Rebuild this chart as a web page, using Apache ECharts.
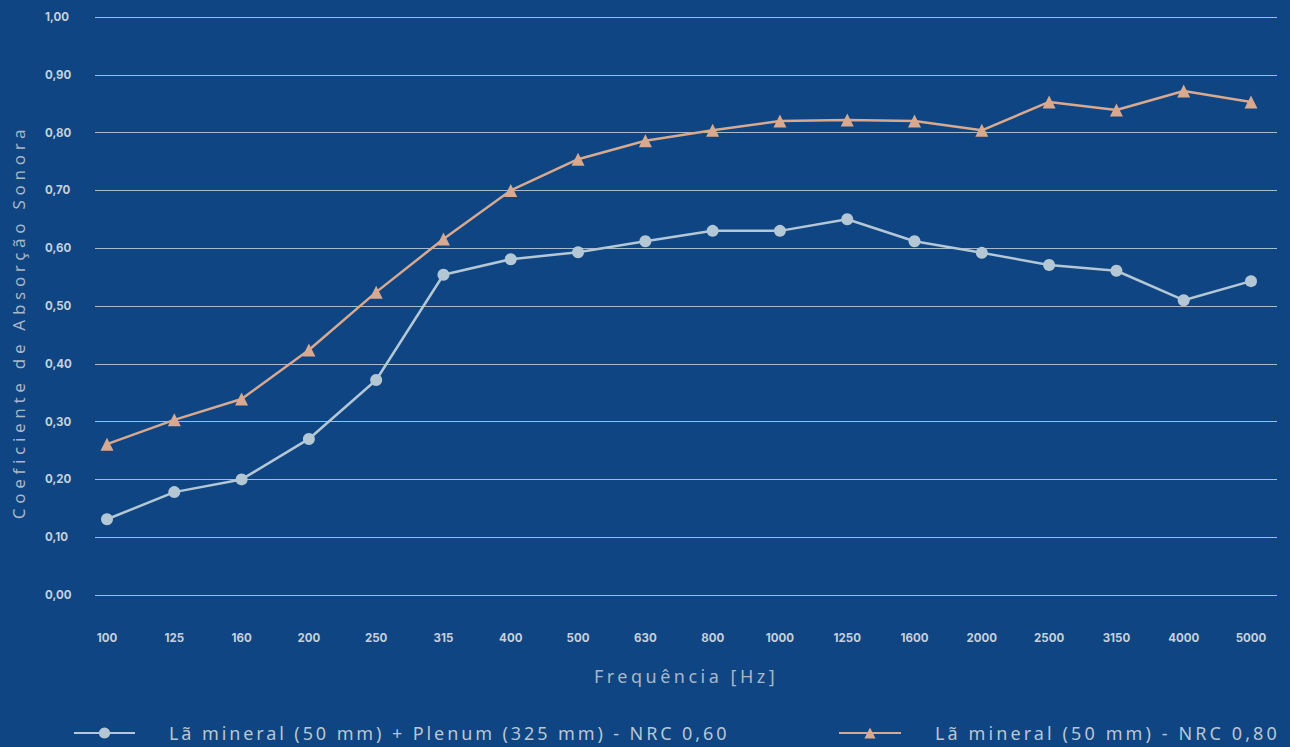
<!DOCTYPE html>
<html>
<head>
<meta charset="utf-8">
<script src="https://cdn.jsdelivr.net/npm/echarts@6/dist/echarts.min.js"></script>
<style>
html,body{margin:0;padding:0;background:#0e4582;}
#chart{width:1290px;height:747px;}
</style>
</head>
<body>
<div id="chart"></div>
<script>
const freqLabels = ['100','125','160','200','250','315','400','500','630','800','1000','1250','1600','2000','2500','3150','4000','5000'];
const plenumName = 'Lã mineral (50 mm) + Plenum (325 mm) - NRC 0,60';
const mineralName = 'Lã mineral (50 mm) - NRC 0,80';
const plenumValues = [0.131,0.178,0.200,0.270,0.372,0.554,0.581,0.593,0.612,0.630,0.630,0.650,0.612,0.592,0.571,0.561,0.510,0.543];
const mineralValues = [0.261,0.303,0.339,0.424,0.524,0.616,0.700,0.754,0.786,0.804,0.820,0.822,0.820,0.804,0.853,0.839,0.872,0.853];
const yAxisName = 'Coeficiente de Absorção Sonora';
const xAxisName = 'Frequência [Hz]';

const chart = echarts.init(document.getElementById('chart'), null, {renderer:'svg'});
const tickFont = {color:'#c6d0db', fontSize:11.5, fontWeight:'bold', fontFamily:'Inter, Roboto, sans-serif'};
const nameFont = {color:'#a9b7c6', fontSize:18, fontFamily:'"Noto Sans", sans-serif'};
const legendFont = {color:'#b9c6d3', fontSize:18, fontFamily:'"Noto Sans", sans-serif', padding:[0,0,0,29]};

chart.setOption({
  backgroundColor:'#0e4582',
  animation:false,
  grid:[
    {left:95, right:13, top:17, bottom:152},
    {left:107, right:39, top:17, bottom:152}
  ],
  legend:[
    {data:[plenumName], left:68, top:719, itemWidth:61, itemHeight:14, textStyle:legendFont},
    {data:[mineralName], left:833, top:719, itemWidth:62, itemHeight:14, textStyle:legendFont}
  ],
  xAxis:[
    {gridIndex:0, type:'value', min:0, max:1, axisLine:{show:false}, axisTick:{show:false}, axisLabel:{show:false}, splitLine:{show:false},
     name:xAxisName, nameLocation:'middle', nameGap:72, nameTextStyle:nameFont},
    {gridIndex:1, type:'category', data:freqLabels, boundaryGap:false, axisLine:{show:false}, axisTick:{show:false},
     axisLabel:Object.assign({margin:37, interval:0}, tickFont), splitLine:{show:false}}
  ],
  yAxis:[
    {gridIndex:0, type:'value', min:0, max:1, interval:0.1, axisLine:{show:false}, axisTick:{show:false},
     axisLabel:Object.assign({align:'left', margin:50, formatter:v=>v.toFixed(2).replace('.',',')}, tickFont),
     splitLine:{lineStyle:{color:'rgba(205,215,228,0.8)', width:1}},
     name:yAxisName, nameLocation:'middle', nameGap:68, nameRotate:90,
     nameTextStyle:Object.assign({}, nameFont, {fontSize:17, padding:[0,32,0,0]})},
    {gridIndex:1, type:'value', min:0, max:1, interval:0.1, show:false}
  ],
  series:[
    {name:plenumName, type:'line', xAxisIndex:1, yAxisIndex:1, data:plenumValues, symbol:'circle', symbolSize:12,
     lineStyle:{width:2.5, color:'#b3c7d5'}, itemStyle:{color:'#b3c7d5'}},
    {name:mineralName, type:'line', xAxisIndex:1, yAxisIndex:1, data:mineralValues, symbol:'triangle', symbolSize:13,
     lineStyle:{width:2.5, color:'#d8a98f'}, itemStyle:{color:'#d8a98f'}}
  ]
});

const spacing = {};
spacing[yAxisName] = '4.7';
spacing[xAxisName] = '3.5';
spacing[plenumName] = '2.9';
spacing[mineralName] = '3.1';
function applySpacing(){
  document.querySelectorAll('#chart svg text').forEach(t=>{
    const s = t.textContent;
    if (spacing[s]) t.setAttribute('letter-spacing', spacing[s]);
  });
}
chart.on('finished', applySpacing);
applySpacing();
setTimeout(applySpacing, 30);
setTimeout(applySpacing, 200);
</script>
</body>
</html>
